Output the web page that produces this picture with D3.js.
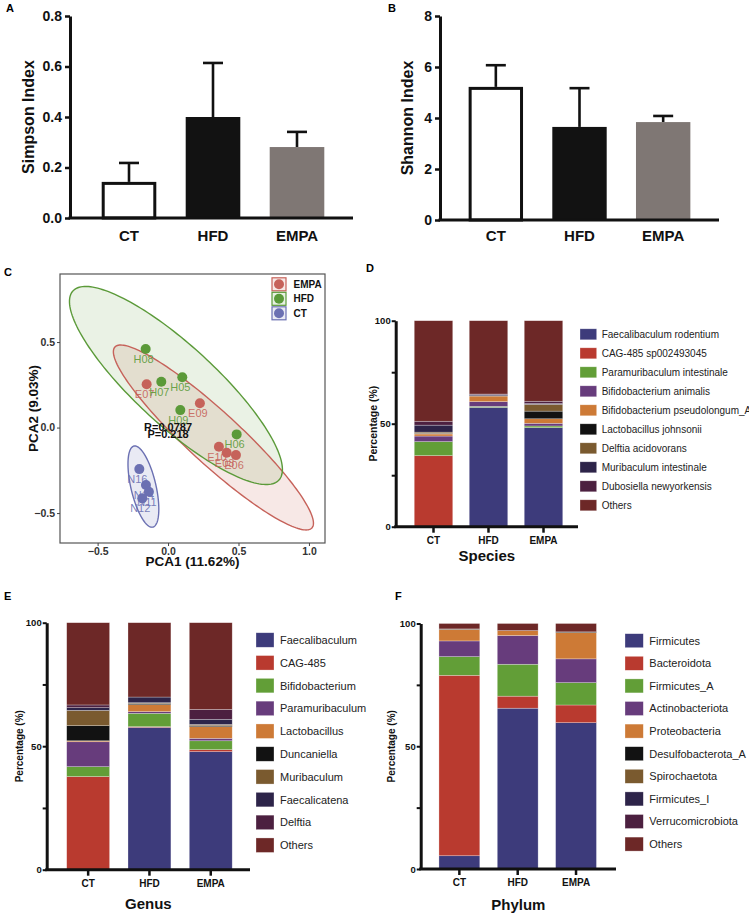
<!DOCTYPE html>
<html><head><meta charset="utf-8">
<script src="https://cdn.jsdelivr.net/npm/d3@7"></script>
<style>body{margin:0;background:#fff} svg{display:block} text{font-family:"Liberation Sans",Arial,Helvetica,sans-serif}</style>
</head><body><svg id="c" width="749" height="915"></svg>
<script>
// ---------------- DATA ----------------
const groups = ["CT", "HFD", "EMPA"];
const simpsonMean = [0.143, 0.400, 0.281];
const simpsonSD = [0.075, 0.214, 0.060];
const simpsonTicks = [0, 0.2, 0.4, 0.6, 0.8];
const shannonMean = [5.22, 3.65, 3.84];
const shannonSD = [0.85, 1.52, 0.24];
const shannonTicks = [0, 2, 4, 6, 8];

// PCA (panel C)
const pcaLegend = ["EMPA", "HFD", "CT"];
const pcaNames = ["H08","E07","H07","H05","E09","H09","H06","E10","E08","E06","N16","N14","N11","N12"];
const pcaGroup = ["HFD","EMPA","HFD","HFD","EMPA","HFD","HFD","EMPA","EMPA","EMPA","CT","CT","CT","CT"];
const pca1 = [-0.159,-0.152,-0.048,0.101,0.226,0.087,0.487,0.361,0.416,0.482,-0.204,-0.157,-0.136,-0.183];
const pca2 = [0.459,0.253,0.268,0.294,0.142,0.102,-0.040,-0.112,-0.147,-0.161,-0.243,-0.336,-0.375,-0.414];
const pcaTicks = [-0.5, 0, 0.5, 1.0];
const pcaYTicks = [-0.5, 0, 0.5];
// confidence ellipses: centre and two conjugate half-axis vectors (data units), order = CT, EMPA, HFD
const ellGroup = ["CT", "EMPA", "HFD"];
const ellCx = [-0.175, 0.322, 0.056];
const ellCy = [-0.345, -0.058, 0.246];
const ellUx = [0.067, 0.699, 0.731];
const ellUy = [-0.237, -0.529, -0.553];
const ellVx = [0.0865, 0.125, 0.192];
const ellVy = [0.0167, 0.112, 0.172];
const statR = "R=0.0787", statP = "P=0.218";

// Stacked composition (panels D, E, F)
const speciesNames = ["Faecalibaculum rodentium","CAG-485 sp002493045","Paramuribaculum intestinale","Bifidobacterium animalis","Bifidobacterium pseudolongum_A","Lactobacillus johnsonii","Delftia acidovorans","Muribaculum intestinale","Dubosiella newyorkensis","Others"];
const speciesCT   = [0, 34.5, 6.8, 2.7, 1.0, 0.3, 0.6, 3.4, 1.9, 48.8];
const speciesHFD  = [57.9, 0, 0.5, 2.3, 2.7, 0.2, 0, 0.5, 0.3, 35.6];
const speciesEMPA = [48.1, 0, 0.8, 1.3, 2.2, 3.7, 3.3, 0.4, 1.1, 39.1];

const genusNames = ["Faecalibaculum","CAG-485","Bifidobacterium","Paramuribaculum","Lactobacillus","Duncaniella","Muribaculum","Faecalicatena","Delftia","Others"];
const genusCT   = [0, 37.7, 4.0, 10.1, 0.4, 6.1, 6.2, 1.1, 1.1, 33.3];
const genusHFD  = [57.6, 0.3, 5.4, 0.7, 2.8, 0.5, 0.3, 2.3, 0, 30.1];
const genusEMPA = [47.8, 0.8, 3.6, 1.0, 4.7, 0.4, 0.5, 2.1, 4.0, 35.1];

const phylumNames = ["Firmicutes","Bacteroidota","Firmicutes_A","Actinobacteriota","Proteobacteria","Desulfobacterota_A","Spirochaetota","Firmicutes_I","Verrucomicrobiota","Others"];
const phylumCT   = [5.4, 73.5, 7.6, 6.4, 4.7, 0.2, 0, 0, 0, 2.2];
const phylumHFD  = [65.5, 4.9, 13.0, 11.7, 2.0, 0, 0, 0, 0, 2.9];
const phylumEMPA = [59.6, 7.2, 9.1, 9.7, 10.7, 0.3, 0, 0, 0, 3.4];
const pctTicks = [0, 25, 50, 75, 100];

// ---------------- STYLE ----------------
const barFills = {CT: "#ffffff", HFD: "#121212", EMPA: "#7f7774"};
const pcaColor = {EMPA: "#c6625a", HFD: "#5b9a39", CT: "#6b70b2"};
const stackColors = ["#3d3b7b","#b93a2f","#629e37","#673c7c","#cd7a36","#121212","#7a5a2f","#2d2449","#4c2040","#6d2827"];

const svg = d3.select("#c");
svg.append("rect").attr("width", 749).attr("height", 915).attr("fill", "#fff");

function panelLabel(x, y, t) {
  svg.append("text").attr("x", x).attr("y", y).attr("font-size", 11).attr("font-weight", "bold").text(t);
}

// ---------- bar panels A & B ----------
function barPanel(o) {
  const g = svg.append("g");
  const y = d3.scaleLinear().domain([0, o.ticks[o.ticks.length - 1]]).range([o.y0, o.y1]);
  const x = d3.scaleBand().domain(groups).range(o.xr).paddingInner(0.35).paddingOuter(0.175);
  const data = groups.map((k, i) => ({k, m: o.mean[i], sd: o.sd[i]}));
  // error bars (drawn first, bars overlap their base)
  data.forEach(d => {
    const cx = x(d.k) + x.bandwidth() / 2;
    g.append("line").attr("x1", cx).attr("x2", cx).attr("y1", y(d.m)).attr("y2", y(d.m + d.sd))
      .attr("stroke", "#111").attr("stroke-width", 2.6);
    g.append("line").attr("x1", cx - 10).attr("x2", cx + 10).attr("y1", y(d.m + d.sd)).attr("y2", y(d.m + d.sd))
      .attr("stroke", "#111").attr("stroke-width", 2.6);
  });
  data.forEach(d => {
    const isCT = d.k === "CT";
    const inset = isCT ? 1.5 : 0;
    g.append("rect").attr("x", x(d.k) + inset).attr("width", x.bandwidth() - 2 * inset)
      .attr("y", y(d.m) + inset).attr("height", y(0) - y(d.m) - inset)
      .attr("fill", barFills[d.k]).attr("stroke", isCT ? "#111" : "none").attr("stroke-width", 3);
  });
  const ax = g.append("g").attr("transform", `translate(${o.ax},0)`)
    .call(d3.axisLeft(y).tickValues(o.ticks).tickFormat(o.fmt).tickSize(5).tickSizeOuter(0).tickPadding(3));
  ax.select(".domain").attr("stroke", "#111").attr("stroke-width", 3);
  ax.selectAll(".tick line").attr("stroke", "#111").attr("stroke-width", 2.5);
  ax.selectAll(".tick text").attr("font-size", 14).attr("font-weight", "bold").attr("fill", "#111")
    .style("font-family", "'Liberation Sans',Arial,sans-serif");
  g.append("line").attr("x1", o.ax - 1.5).attr("x2", o.axEnd).attr("y1", y(0)).attr("y2", y(0))
    .attr("stroke", "#111").attr("stroke-width", 3);
  groups.forEach(k => {
    g.append("text").attr("x", x(k) + x.bandwidth() / 2).attr("y", 241).attr("text-anchor", "middle")
      .attr("font-size", 15).attr("font-weight", "bold").attr("fill", "#111").text(k);
  });
  g.append("text").attr("transform", `translate(${o.titleX},${(o.y0 + o.y1) / 2}) rotate(-90)`)
    .attr("text-anchor", "middle").attr("dominant-baseline", "central")
    .attr("font-size", 16).attr("font-weight", "bold").attr("fill", "#111").text(o.title);
}
barPanel({mean: simpsonMean, sd: simpsonSD, ticks: simpsonTicks, fmt: d3.format(".1f"),
  y0: 218, y1: 16, xr: [87, 339], ax: 70, axEnd: 353, titleX: 28, title: "Simpson Index"});
barPanel({mean: shannonMean, sd: shannonSD, ticks: shannonTicks, fmt: d3.format("d"),
  y0: 220, y1: 16, xr: [454, 705], ax: 440, axEnd: 719, titleX: 407, title: "Shannon Index"});
panelLabel(6, 12, "A");
panelLabel(388, 12, "B");

// ---------- PCA panel C ----------
(function () {
  const L = 60, R = 325, T = 274, B = 543;
  const x = d3.scaleLinear().domain([-0.767, 1.114]).range([L, R]);
  const y = d3.scaleLinear().domain([-0.675, 0.898]).range([B, T]);
  const g = svg.append("g");
  const line = d3.line().x(d => x(d[0])).y(d => y(d[1])).curve(d3.curveLinearClosed);
  const ells = ellGroup.map((k, i) => {
    const pts = d3.range(0, 2 * Math.PI, Math.PI / 90).map(t =>
      [ellCx[i] + ellUx[i] * Math.cos(t) + ellVx[i] * Math.sin(t),
       ellCy[i] + ellUy[i] * Math.cos(t) + ellVy[i] * Math.sin(t)]);
    return {k, pts};
  });
  ells.forEach(e => g.append("path").attr("d", line(e.pts)).attr("fill", pcaColor[e.k])
    .attr("fill-opacity", e.k === "HFD" ? 0.13 : 0.15).attr("stroke", "none"));
  ells.forEach(e => g.append("path").attr("d", line(e.pts)).attr("fill", "none")
    .attr("stroke", pcaColor[e.k]).attr("stroke-width", 1.4));
  const pts = pcaNames.map((n, i) => ({n, g: pcaGroup[i], x: pca1[i], y: pca2[i]}));
  pts.forEach(p => g.append("circle").attr("cx", x(p.x)).attr("cy", y(p.y)).attr("r", 5)
    .attr("fill", pcaColor[p.g]));
  pts.forEach(p => g.append("text").attr("x", x(p.x) - 2).attr("y", y(p.y) + 14).attr("text-anchor", "middle")
    .attr("font-size", 11).attr("fill", pcaColor[p.g]).attr("fill-opacity", 0.9).text(p.n));
  g.append("text").attr("x", x(0)).attr("y", y(0) + 3).attr("text-anchor", "middle")
    .attr("font-size", 11).attr("font-weight", "bold").attr("fill", "#111").text(statR);
  g.append("text").attr("x", x(0)).attr("y", y(-0.045) + 3).attr("text-anchor", "middle")
    .attr("font-size", 11).attr("font-weight", "bold").attr("fill", "#111").text(statP);
  g.append("rect").attr("x", L).attr("y", T).attr("width", R - L).attr("height", B - T)
    .attr("fill", "none").attr("stroke", "#555").attr("stroke-width", 1.2);
  const ax = g.append("g").attr("transform", `translate(0,${B})`)
    .call(d3.axisBottom(x).tickValues(pcaTicks).tickFormat(d3.format(".1f")).tickSize(3).tickSizeOuter(0).tickPadding(2));
  ax.select(".domain").remove();
  const ay = g.append("g").attr("transform", `translate(${L},0)`)
    .call(d3.axisLeft(y).tickValues(pcaYTicks).tickFormat(d3.format(".1f")).tickSize(3).tickSizeOuter(0).tickPadding(2));
  ay.select(".domain").remove();
  [ax, ay].forEach(a => {
    a.selectAll(".tick line").attr("stroke", "#444");
    a.selectAll(".tick text").attr("font-size", 10.5).attr("font-weight", "bold").attr("fill", "#333")
      .style("font-family", "'Liberation Sans',Arial,sans-serif");
  });
  g.append("text").attr("x", (L + R) / 2).attr("y", 566).attr("text-anchor", "middle")
    .attr("font-size", 13.5).attr("font-weight", "bold").attr("fill", "#111").text("PCA1 (11.62%)");
  g.append("text").attr("transform", `translate(33,${(T + B) / 2}) rotate(-90)`).attr("text-anchor", "middle")
    .attr("dominant-baseline", "central").attr("font-size", 13.5).attr("font-weight", "bold").attr("fill", "#111")
    .text("PCA2 (9.03%)");
  // legend
  pcaLegend.forEach((k, i) => {
    const cy = 284.3 + i * 14.5;
    g.append("rect").attr("x", 272).attr("y", cy - 6.5).attr("width", 14).attr("height", 13)
      .attr("fill", pcaColor[k]).attr("fill-opacity", 0.15).attr("stroke", pcaColor[k]).attr("stroke-width", 1.2);
    g.append("circle").attr("cx", 279).attr("cy", cy).attr("r", 5).attr("fill", pcaColor[k]);
    g.append("text").attr("x", 293.5).attr("y", cy + 3.6).attr("font-size", 10).attr("font-weight", "bold")
      .attr("fill", "#111").text(k);
  });
})();
panelLabel(4, 276, "C");

// ---------- stacked panels D, E, F ----------
function stackPanel(o) {
  const g = svg.append("g");
  const y = d3.scaleLinear().domain([0, 100]).range([o.y0, o.y1]);
  const x = d3.scaleBand().domain(groups).range(o.xr).paddingInner(0.3).paddingOuter(0.15);
  const rows = groups.map((k, i) => {
    const r = {group: k};
    o.names.forEach((n, j) => r[n] = o.values[i][j]);
    return r;
  });
  const series = d3.stack().keys(o.names)(rows);
  series.forEach((s, j) => {
    g.selectAll(null).data(s.filter(d => d[1] - d[0] > 0)).join("rect")
      .attr("x", d => x(d.data.group)).attr("width", x.bandwidth())
      .attr("y", d => y(d[1])).attr("height", d => y(d[0]) - y(d[1]))
      .attr("fill", stackColors[j]).attr("stroke", "#fff").attr("stroke-opacity", 0.45).attr("stroke-width", 0.6);
  });
  const ay = g.append("g").attr("transform", `translate(${o.ax},0)`)
    .call(d3.axisLeft(y).tickValues(pctTicks).tickFormat(d => d % 50 === 0 ? d : "").tickSize(4).tickSizeOuter(0).tickPadding(1));
  ay.select(".domain").attr("stroke", "#111").attr("stroke-width", 3);
  ay.selectAll(".tick line").attr("stroke", "#111").attr("stroke-width", 2);
  ay.selectAll(".tick text").attr("font-size", 9.5).attr("font-weight", "bold").attr("fill", "#111")
    .style("font-family", "'Liberation Sans',Arial,sans-serif");
  const axb = g.append("g").attr("transform", `translate(0,${o.y0})`)
    .call(d3.axisBottom(x).tickSize(6).tickSizeOuter(0).tickPadding(4));
  axb.select(".domain").remove();
  g.append("line").attr("x1", o.ax - 1.5).attr("x2", o.axEnd).attr("y1", o.y0).attr("y2", o.y0)
    .attr("stroke", "#111").attr("stroke-width", 3);
  axb.selectAll(".tick line").attr("stroke", "#111").attr("stroke-width", 2.5);
  axb.selectAll(".tick text").attr("font-size", 10).attr("font-weight", "bold").attr("fill", "#111")
    .style("font-family", "'Liberation Sans',Arial,sans-serif");
  g.append("text").attr("x", (o.ax + o.axEnd) / 2).attr("y", o.titleY).attr("text-anchor", "middle")
    .attr("font-size", 15).attr("font-weight", "bold").attr("fill", "#111").text(o.title);
  g.append("text").attr("transform", `translate(${o.ytX},${(o.y0 + o.y1) / 2}) rotate(-90)`)
    .attr("text-anchor", "middle").attr("dominant-baseline", "central")
    .attr("font-size", o.ytSize).attr("font-weight", "bold").attr("fill", "#111").text("Percentage (%)");
  o.names.forEach((n, j) => {
    const cy = o.legY + j * o.legStep;
    g.append("rect").attr("x", o.legX).attr("y", cy - o.swH / 2).attr("width", o.swW).attr("height", o.swH)
      .attr("fill", stackColors[j]).attr("stroke", "#fff").attr("stroke-opacity", 0.5).attr("stroke-width", 0.6);
    g.append("text").attr("x", o.legX + o.swW + o.legGap).attr("y", cy + o.legFont * 0.36)
      .attr("font-size", o.legFont).attr("fill", "#222").text(n);
  });
}
stackPanel({names: speciesNames, values: [speciesCT, speciesHFD, speciesEMPA],
  y0: 526.7, y1: 320.7, xr: [406, 571], ax: 395.7, axEnd: 578, title: "Species", titleY: 561,
  ytX: 372.7, ytSize: 10.5, legX: 580, legY: 334.3, legStep: 19, swW: 16.7, swH: 11, legGap: 5, legFont: 10});
stackPanel({names: genusNames, values: [genusCT, genusHFD, genusEMPA],
  y0: 869.7, y1: 622.7, xr: [57.5, 241.4], ax: 46.7, axEnd: 250, title: "Genus", titleY: 909,
  ytX: 19.5, ytSize: 10, legX: 256, legY: 640, legStep: 22.8, swW: 18, swH: 14.5, legGap: 6, legFont: 11});
stackPanel({names: phylumNames, values: [phylumCT, phylumHFD, phylumEMPA],
  y0: 869, y1: 623.5, xr: [430.2, 605.2], ax: 420.7, axEnd: 616, title: "Phylum", titleY: 910,
  ytX: 391.7, ytSize: 10, legX: 625, legY: 640.7, legStep: 22.6, swW: 18.3, swH: 14, legGap: 6, legFont: 11});
panelLabel(366, 272, "D");
panelLabel(4, 600, "E");
panelLabel(395, 600, "F");
</script></body></html>
